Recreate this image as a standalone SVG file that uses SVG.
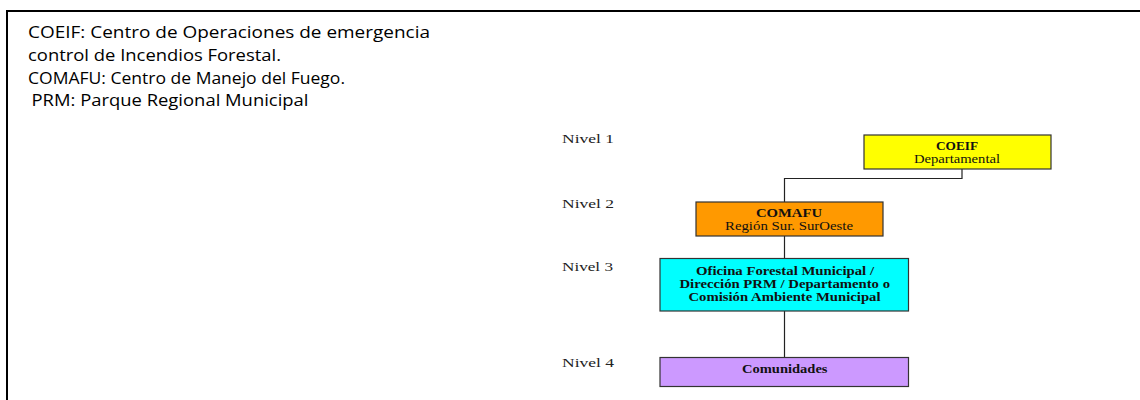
<svg xmlns="http://www.w3.org/2000/svg" width="1140" height="400" viewBox="0 0 1140 400">
<style>
.frame{fill:none;stroke:#000;stroke-width:2}
.box{stroke:#333;stroke-width:1.2}
.conn{fill:none;stroke:#222;stroke-width:1.2}
.leg{font-family:"Open Sans","Noto Sans",sans-serif;font-size:17px;fill:#000}
.lvl{font-family:"Liberation Serif","Times New Roman",serif;font-size:12.5px;fill:#222}
.b{font-family:"Liberation Serif","Times New Roman",serif;font-size:11.5px;font-weight:bold;fill:#111}
.r{font-family:"Liberation Serif","Times New Roman",serif;font-size:11.5px;fill:#111}
</style>
<rect width="1140" height="400" fill="#fff"/>
<path class="frame" d="M7,401 V11 H1141"/>
<g id="legend">
<text class="leg" x="28" y="38" textLength="402" lengthAdjust="spacingAndGlyphs">COEIF: Centro de Operaciones de emergencia</text>
<text class="leg" x="28" y="61" textLength="253" lengthAdjust="spacingAndGlyphs">control de Incendios Forestal.</text>
<text class="leg" x="28" y="83.5" textLength="317" lengthAdjust="spacingAndGlyphs">COMAFU: Centro de Manejo del Fuego.</text>
<text class="leg" x="31.5" y="106" textLength="277" lengthAdjust="spacingAndGlyphs">PRM: Parque Regional Municipal</text>
</g>
<g id="levels">
<text class="lvl" x="562" y="143" textLength="52" lengthAdjust="spacingAndGlyphs">Nivel 1</text>
<text class="lvl" x="562" y="208" textLength="52" lengthAdjust="spacingAndGlyphs">Nivel 2</text>
<text class="lvl" x="562" y="271" textLength="51" lengthAdjust="spacingAndGlyphs">Nivel 3</text>
<text class="lvl" x="562" y="367" textLength="52" lengthAdjust="spacingAndGlyphs">Nivel 4</text>
</g>
<g id="connectors">
<path class="conn" d="M962,169 V178.5 H784.5 V202"/>
<path class="conn" d="M784.5,236 V258"/>
<path class="conn" d="M784.5,311 V357"/>
</g>
<g id="coeif">
<rect class="box" x="864" y="135" width="187" height="34" fill="#ffff00"/>
<text class="b" x="936" y="149.5" textLength="42" lengthAdjust="spacingAndGlyphs">COEIF</text>
<text class="r" x="914" y="163" textLength="86" lengthAdjust="spacingAndGlyphs">Departamental</text>
</g>
<g id="comafu">
<rect class="box" x="696" y="202" width="187" height="34" fill="#ff9900"/>
<text class="b" x="756" y="217" textLength="66" lengthAdjust="spacingAndGlyphs">COMAFU</text>
<text class="r" x="725" y="230" textLength="128" lengthAdjust="spacingAndGlyphs">Región Sur. SurOeste</text>
</g>
<g id="oficina">
<rect class="box" x="660" y="258.5" width="248.5" height="52.5" fill="#00ffff"/>
<text class="b" x="696" y="275" textLength="178" lengthAdjust="spacingAndGlyphs">Oficina Forestal Municipal /</text>
<text class="b" x="679.5" y="287.5" textLength="210.5" lengthAdjust="spacingAndGlyphs">Dirección PRM / Departamento o</text>
<text class="b" x="688.5" y="300.5" textLength="192" lengthAdjust="spacingAndGlyphs">Comisión Ambiente Municipal</text>
</g>
<g id="comunidades">
<rect class="box" x="660" y="357.5" width="248.5" height="29" fill="#cc99ff"/>
<text class="b" x="742" y="372.5" textLength="85.5" lengthAdjust="spacingAndGlyphs">Comunidades</text>
</g>
</svg>
